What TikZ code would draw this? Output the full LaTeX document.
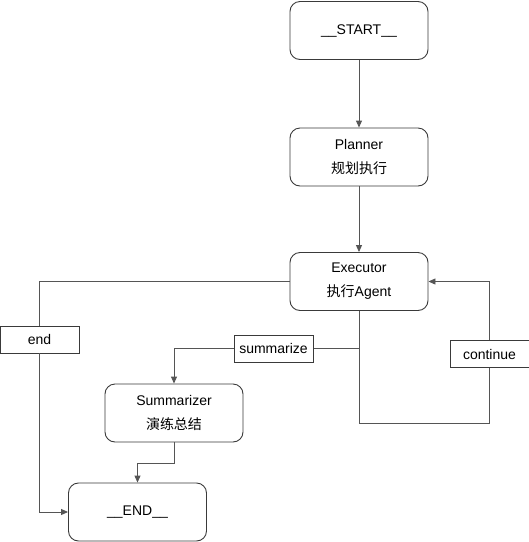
\documentclass[tikz,border=0pt]{standalone}
\usepackage{fontspec}
\setmainfont{Liberation Sans}
\newfontfamily\cjk{Noto Sans CJK SC}
\usetikzlibrary{positioning,calc,arrows.meta}
\definecolor{linegray}{HTML}{555555}
\definecolor{boxgray}{HTML}{3A3A3A}
\begin{document}
\begin{tikzpicture}[x=1pt,y=-1pt,
    stage/.style={draw=boxgray,line width=0.9pt,rounded corners=10pt,minimum width=138pt,minimum height=58pt,align=center,font=\fontsize{14}{24}\selectfont},
    tag/.style={draw=boxgray,line width=0.9pt,fill=white,minimum width=79pt,minimum height=27pt,inner sep=0pt,font=\fontsize{14}{16}\selectfont},
    wire/.style={draw=linegray,line width=0.9pt},
    flow/.style={wire,-{Triangle[length=7pt,width=6pt]}}]
      \useasboundingbox (0,0) rectangle (529,542);
      % main stages
      \node[stage] (start) at (359,30.5){\_\_START\_\_};
      \node[stage] (plan) at (359,157){Planner\\{\cjk 规划执行}};
      \node[stage] (exec) at (359,281.5){Executor\\{\cjk 执行}Agent};
      \node[stage] (summ) at (174,413){Summarizer\\{\cjk 演练总结}};
      \node[stage] (fin) at (137.5,512){\_\_END\_\_};
      \coordinate (loopb) at (359,423);
      % edges
      \draw[flow] (start) -- (plan);\draw[flow] (plan) -- (exec);
      \draw[wire] (exec.south) |- (273.5,348.5) coordinate (sumpt);
      \draw[wire] (exec.south) -- (loopb) -| (489.5,354) coordinate (contpt);
      \draw[wire] (exec.west) -| (39.5,339.5) coordinate (endpt);
      \node[tag] (sumlbl) at (sumpt){summarize};
      \node[tag] (contlbl) at (contpt){continue};
      \node[tag] (endlbl) at (endpt){end};
      \draw[flow] (sumlbl.west) -| (summ.north);
      \draw[flow] (contlbl.north) |- (exec.east);
      \draw[flow] (endlbl.south) |- (fin.west);
      \draw[flow] (summ.south) -- ++(0,21) -| (fin.north);
    \end{tikzpicture}
\end{document}
